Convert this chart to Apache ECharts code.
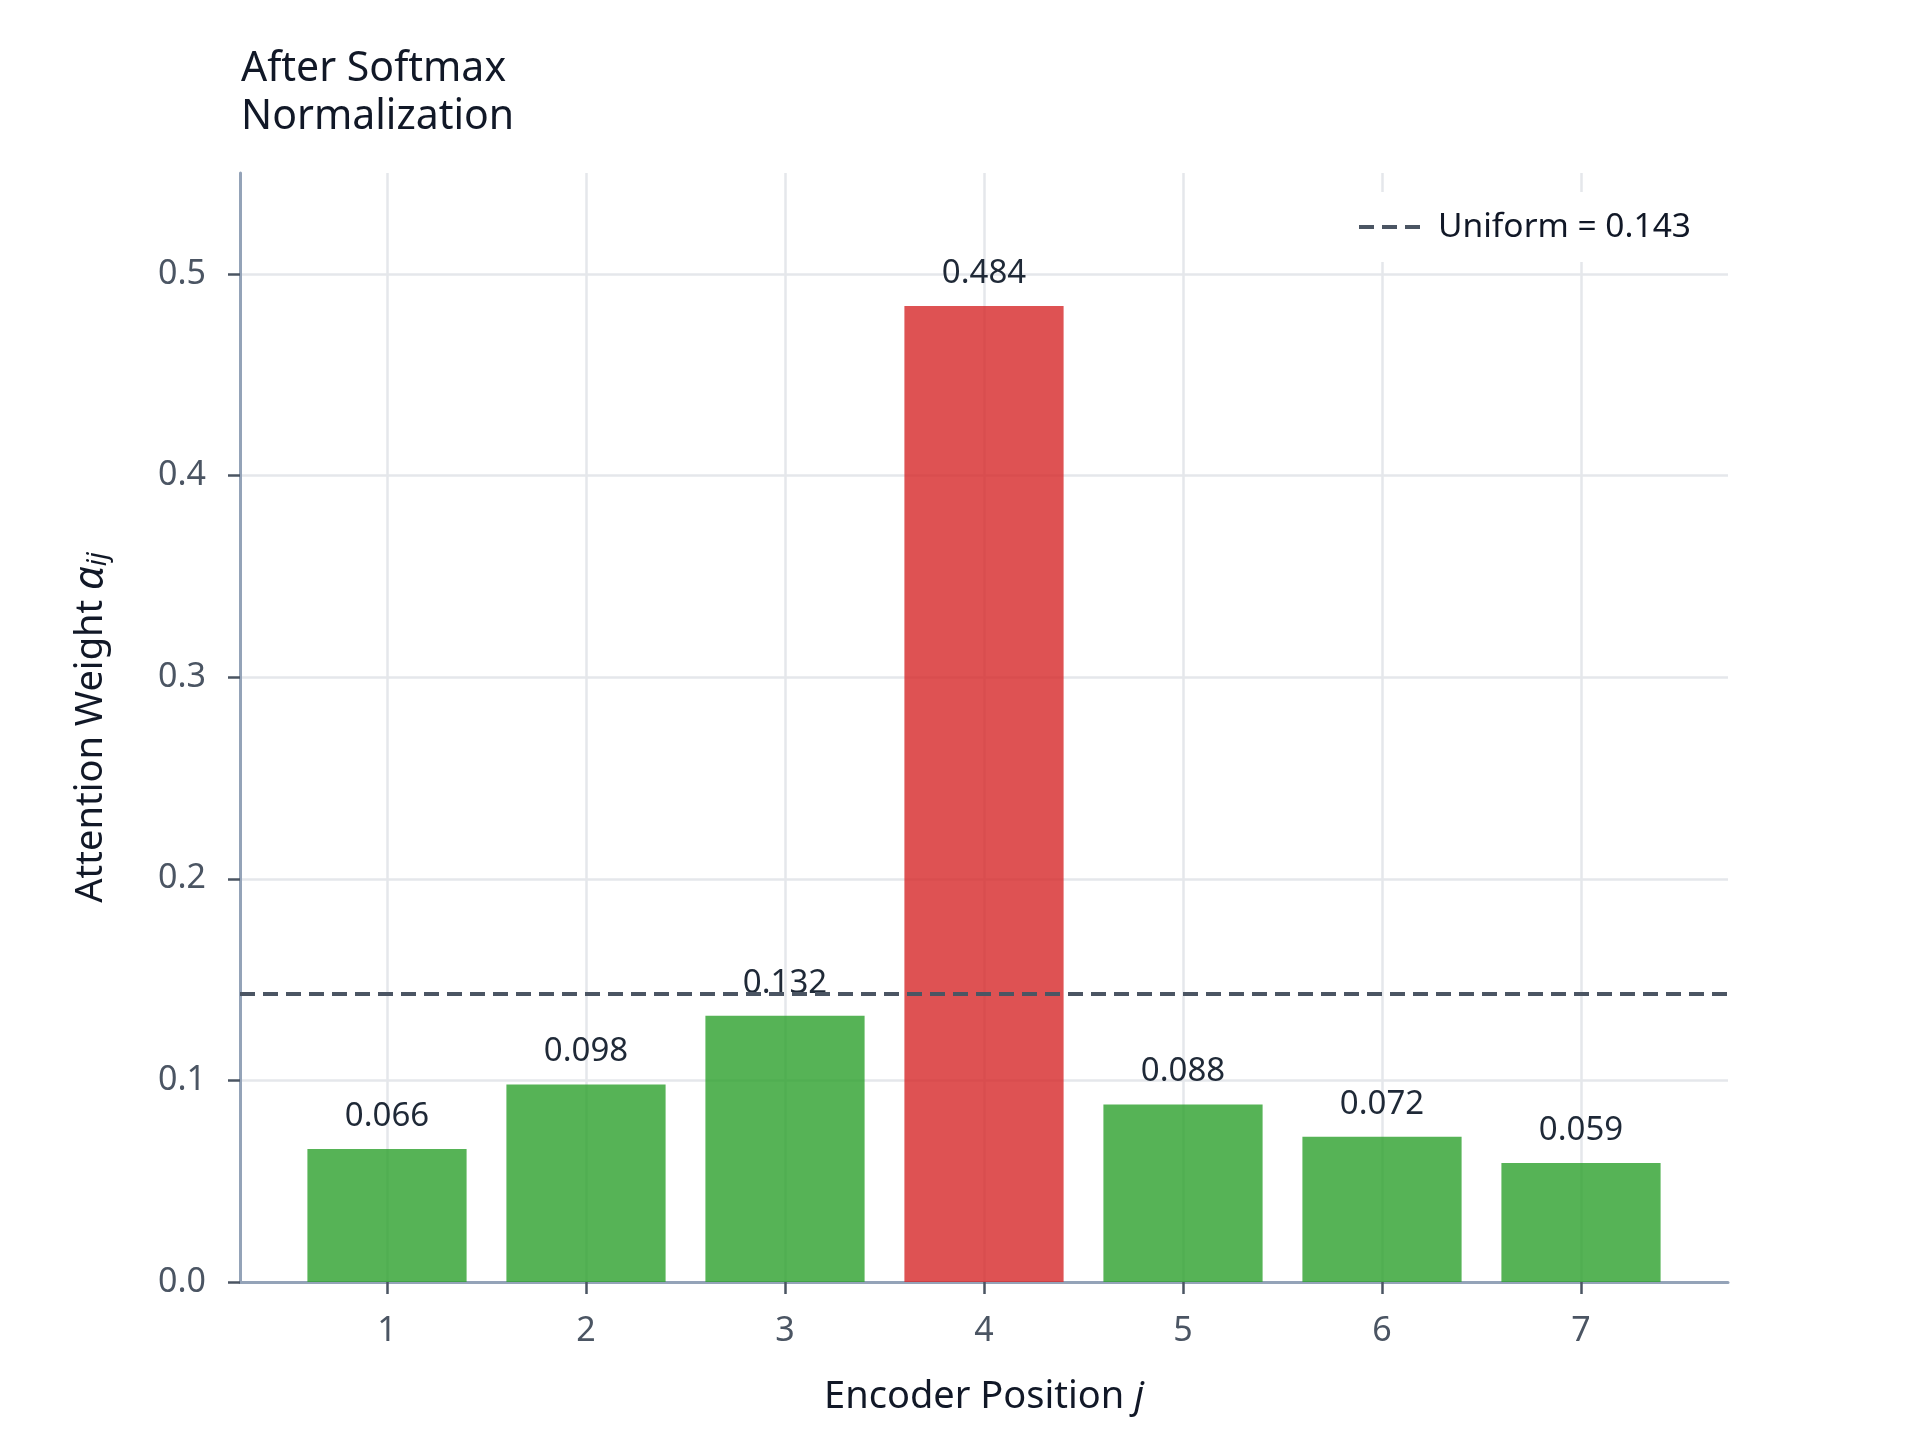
<!DOCTYPE html>
<html>
<head>
<meta charset="utf-8">
<script src="https://cdn.jsdelivr.net/npm/echarts@6/dist/echarts.min.js"></script>
<style>
  html, body { margin: 0; padding: 0; background: #fff; }
  #main { width: 1920px; height: 1440px; }
</style>
</head>
<body>
<div id="main"></div>
<script>
const positions = [1, 2, 3, 4, 5, 6, 7];
const weights = [0.066, 0.098, 0.132, 0.484, 0.088, 0.072, 0.059];
const uniformWeight = 0.143;

const FONT = '"Noto Sans", "DejaVu Sans", sans-serif';
const green = 'rgba(44, 160, 44, 0.8)';
const red = 'rgba(214, 39, 40, 0.8)';
const gridColor = '#e5e7eb';
const axisColor = '#94a3b8';
const tickColor = '#4b5563';
const dashColor = '#4b5563';
const maxWeight = Math.max(...weights);

const chartDom = document.getElementById('main');
const myChart = echarts.init(chartDom);

const barData = positions.map((p, i) => [p, weights[i]]);

const option = {
  backgroundColor: '#fff',
  textStyle: { fontFamily: FONT },
  title: {
    text: 'After Softmax\nNormalization',
    left: 236,
    top: 40,
    textStyle: {
      fontFamily: FONT,
      fontSize: 41,
      fontWeight: 'normal',
      lineHeight: 48,
      color: '#111827'
    }
  },
  legend: {
    left: 1341,
    top: 192,
    padding: [18, 16],
    backgroundColor: '#fff',
    itemWidth: 62,
    itemHeight: 14,
    data: ['Uniform = 0.143'],
    itemStyle: { color: 'transparent', borderWidth: 0 },
    lineStyle: { color: dashColor, width: 4, type: [15, 8] },
    textStyle: {
      fontFamily: FONT,
      fontSize: 33.5,
      color: '#111827',
      padding: [0, 0, 0, 12]
    }
  },
  grid: [
    // frame: axis lines
    { left: 240, right: 192, top: 173, bottom: 158 },
    // y ticks / horizontal grid lines (0 .. 0.5)
    { left: 240, right: 192, top: 274, bottom: 158 },
    // bars, from center of position 1 to center of position 7
    { left: 387, right: 339, top: 173, bottom: 158 }
  ],
  xAxis: [
    {
      gridIndex: 0, type: 'value', min: 0, max: 1, interval: 1,
      axisLine: { show: true, lineStyle: { color: axisColor, width: 3 } },
      axisTick: { show: false }, axisLabel: { show: false }, splitLine: { show: false }
    },
    {
      gridIndex: 1, type: 'value', min: 0, max: 1, interval: 1, show: false
    },
    {
      gridIndex: 2, type: 'value', min: 1, max: 7, interval: 1,
      name: '{n|Encoder Position }{i|j}',
      nameLocation: 'middle',
      nameGap: 96,
      nameTextStyle: {
        rich: {
          n: { fontFamily: FONT, fontSize: 38, color: '#111827' },
          i: { fontFamily: FONT, fontSize: 38, fontStyle: 'italic', color: '#111827' }
        }
      },
      axisLine: { show: false },
      axisTick: { show: true, length: 12, lineStyle: { color: tickColor, width: 2.5 } },
      axisLabel: { fontFamily: FONT, fontSize: 34, color: tickColor, margin: 32 },
      splitLine: { show: true, lineStyle: { color: gridColor, width: 2.5 } }
    }
  ],
  yAxis: [
    {
      gridIndex: 0, type: 'value', min: 0, max: 0.55, interval: 0.05,
      name: '{n|Attention Weight }{a|α}{s|ij}',
      nameLocation: 'middle',
      nameGap: 128,
      nameTextStyle: {
        rich: {
          n: { fontFamily: FONT, fontSize: 38, color: '#111827' },
          a: { fontFamily: FONT, fontSize: 42, fontStyle: 'italic', color: '#111827' },
          s: { fontFamily: FONT, fontSize: 27, fontStyle: 'italic', color: '#111827', padding: [15, 0, 0, 0] }
        }
      },
      axisLine: { show: true, lineStyle: { color: axisColor, width: 3 } },
      axisTick: { show: false }, axisLabel: { show: false }, splitLine: { show: false }
    },
    {
      gridIndex: 1, type: 'value', min: 0, max: 0.5, interval: 0.1,
      axisLine: { show: false },
      axisTick: { show: true, length: 12, lineStyle: { color: tickColor, width: 2.5 } },
      axisLabel: {
        fontFamily: FONT, fontSize: 34, color: tickColor, margin: 34,
        formatter: v => v.toFixed(1)
      },
      splitLine: { show: true, showMinLine: false, lineStyle: { color: gridColor, width: 2.5 } }
    },
    {
      gridIndex: 2, type: 'value', min: 0, max: 0.55, interval: 0.05, show: false
    }
  ],
  series: [
    {
      name: 'Attention',
      type: 'bar',
      xAxisIndex: 2,
      yAxisIndex: 2,
      clip: false,
      barWidth: '80%',
      data: barData,
      itemStyle: {
        color: p => (p.value[1] === maxWeight ? red : green)
      },
      label: {
        show: true,
        position: 'top',
        distance: 16,
        fontFamily: FONT,
        fontSize: 33,
        color: '#1f2937',
        formatter: p => p.value[1].toFixed(3)
      },
      z: 2
    },
    {
      name: 'Uniform = 0.143',
      type: 'line',
      xAxisIndex: 0,
      yAxisIndex: 0,
      symbol: 'none',
      data: [],
      itemStyle: { color: dashColor },
      lineStyle: { color: dashColor, width: 4, type: [15, 8] },
      markLine: {
        silent: true,
        symbol: 'none',
        precision: 3,
        label: { show: false },
        lineStyle: { color: dashColor, width: 4, type: [15, 8] },
        data: [{ yAxis: uniformWeight }]
      },
      z: 5
    }
  ]
};

myChart.setOption(option);
</script>
</body>
</html>
